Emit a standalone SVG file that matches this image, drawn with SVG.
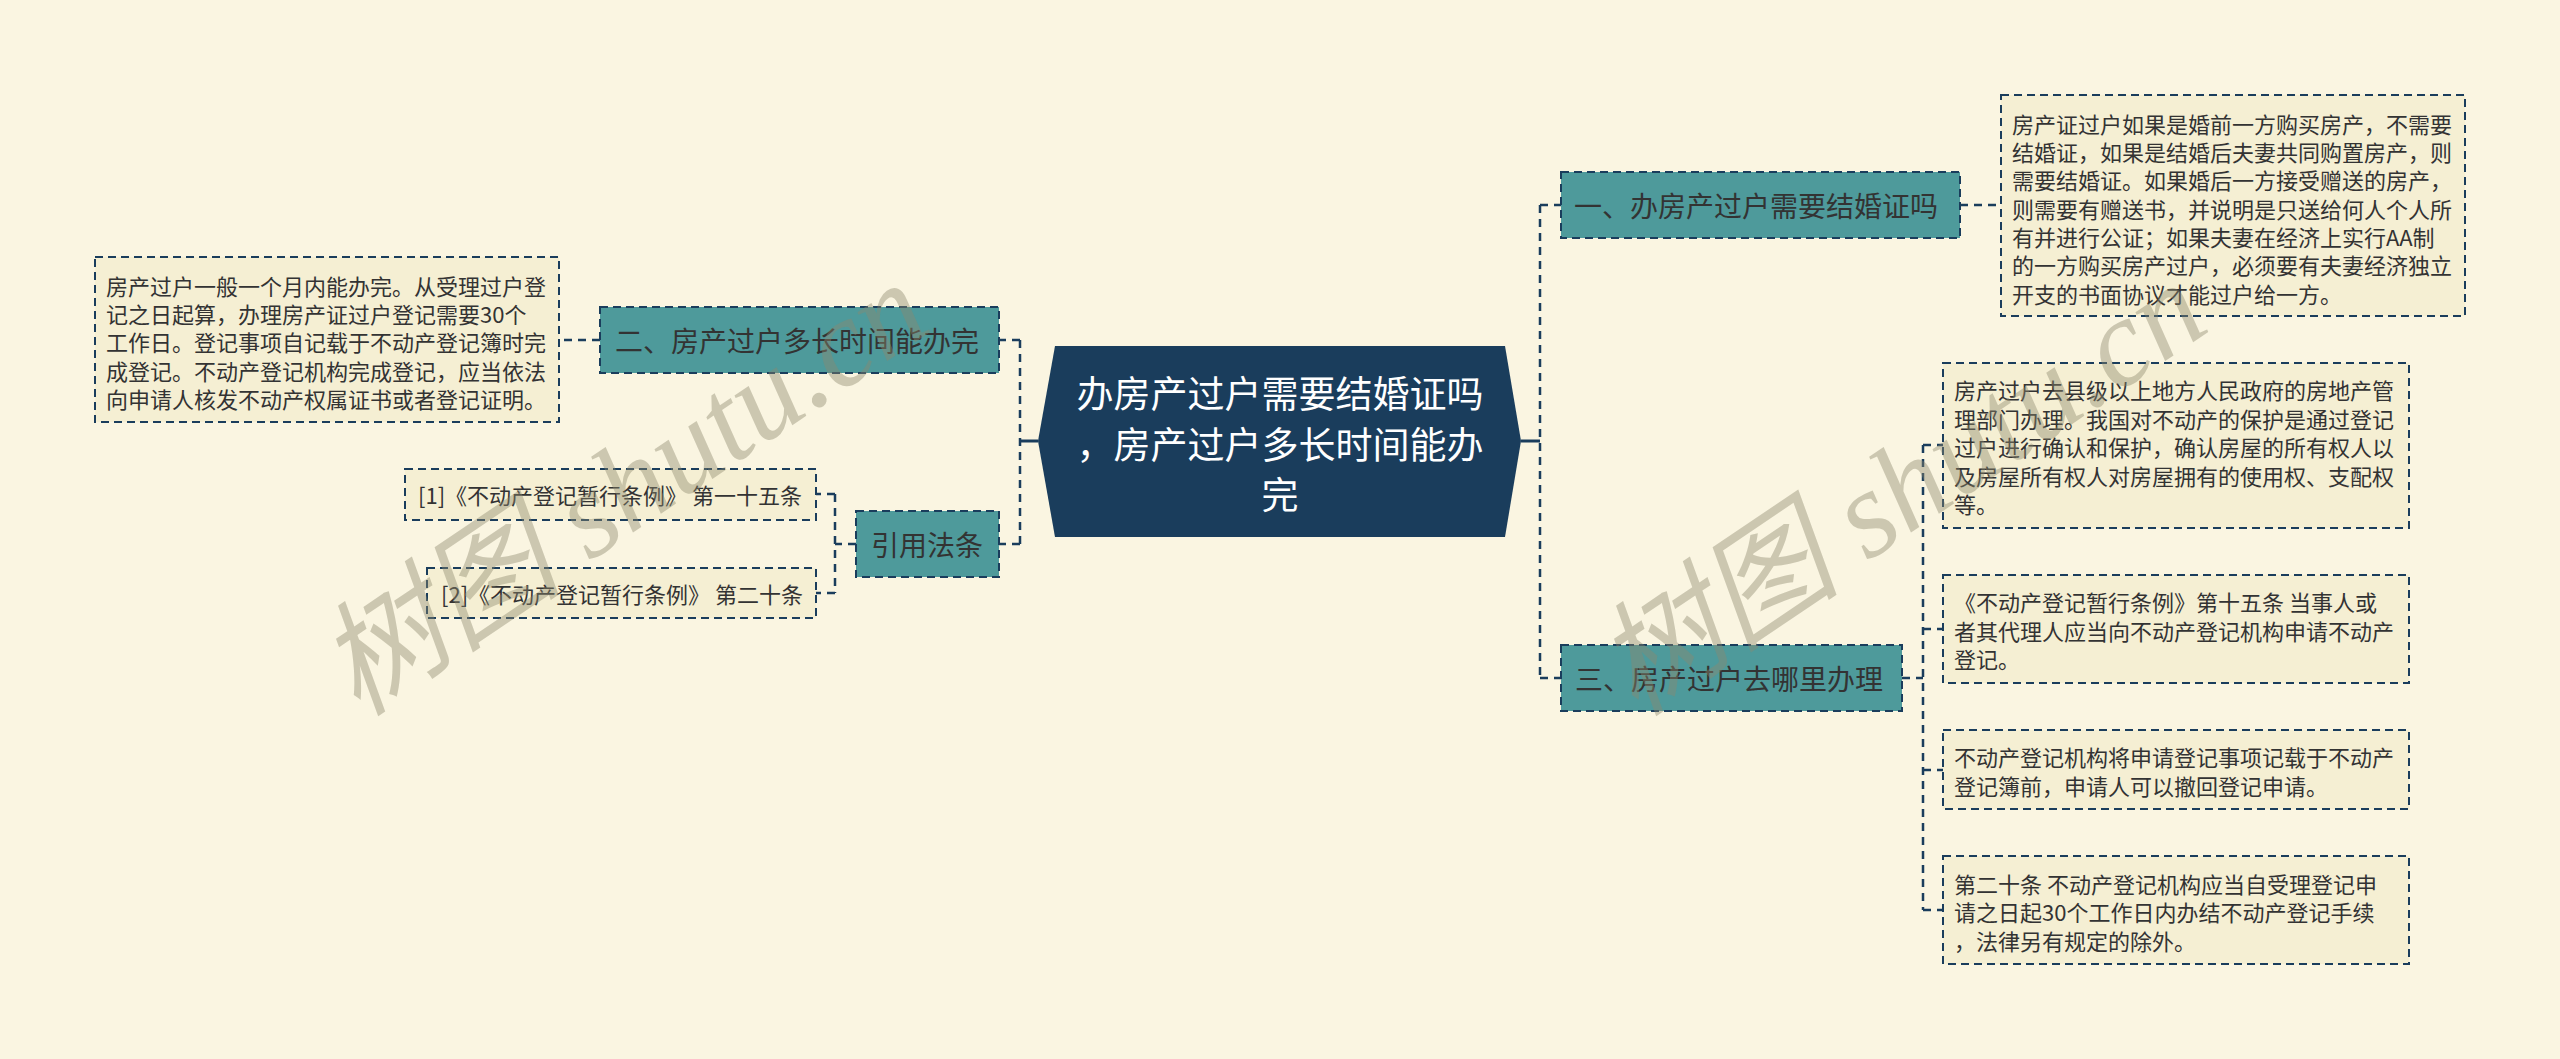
<svg xmlns="http://www.w3.org/2000/svg" width="2560" height="1059" viewBox="0 0 2560 1059">
<defs>
<style>
.bg{fill:#faf5e1}
.root{fill:#1a3d5c}
.rootTxt{fill:#ffffff;font-family:"Noto Sans CJK SC","Liberation Sans",sans-serif;font-size:37px;text-anchor:middle;dominant-baseline:central}
.br{fill:#4e9a9b;stroke:#1a3d5c;stroke-width:2;stroke-dasharray:8 5}
.brTxt{fill:#333333;font-family:"Noto Sans CJK SC","Liberation Sans",sans-serif;font-size:28px;dominant-baseline:central}
.leaf{fill:#f5efd3;stroke:#1a3d5c;stroke-width:2;stroke-dasharray:8 5}
.lfTxt{fill:#333333;font-family:"Noto Sans CJK SC","Liberation Sans",sans-serif;font-size:22px;dominant-baseline:central}
.con{fill:none;stroke:#1a3d5c;stroke-width:2.5;stroke-dasharray:8 6}
.solid{fill:none;stroke:#1a3d5c;stroke-width:3}
.wm{fill:#8c876e;fill-opacity:0.42;font-family:"Liberation Serif","Noto Sans CJK SC",serif;font-style:italic;font-size:124px}
</style>
</defs>
<rect class="bg" x="0" y="0" width="2560" height="1059"/>

<g id="connectors">
<path class="solid" d="M1038 441 H1020"/>
<path class="con" d="M1020 340 V544"/>
<path class="con" d="M1020 340 H999 M1020 544 H999"/>
<path class="solid" d="M1521 441 H1540"/>
<path class="con" d="M1540 205 V678"/>
<path class="con" d="M1540 205 H1561 M1540 678 H1561"/>
<path class="con" d="M1960 205 H2001"/>
<path class="con" d="M600 340 H559"/>
<path class="con" d="M856 544 H835 M835 494 V593 M835 494 H816 M835 593 H816"/>
<path class="con" d="M1902 678 H1923 M1923 445 V910 M1923 445 H1943 M1923 629 H1943 M1923 770 H1943 M1923 910 H1943"/>
</g>

<g id="root">
<polygon class="root" points="1055,346 1505,346 1521,441 1505,537 1055,537 1038,441"/>
<text class="rootTxt" x="1280" y="392">办房产过户需要结婚证吗</text>
<text class="rootTxt" x="1280" y="443">，房产过户多长时间能办</text>
<text class="rootTxt" x="1280" y="493">完</text>
</g>

<g id="branch1">
<rect class="br" x="1561" y="172" width="399" height="66"/>
<text class="brTxt" x="1574" y="205">一、办房产过户需要结婚证吗</text>
</g>
<g id="leaf1">
<rect class="leaf" x="2001" y="95" width="464" height="221"/>
<text class="lfTxt" x="2012" y="123">房产证过户如果是婚前一方购买房产，不需要</text>
<text class="lfTxt" x="2012" y="151">结婚证，如果是结婚后夫妻共同购置房产，则</text>
<text class="lfTxt" x="2012" y="179">需要结婚证。如果婚后一方接受赠送的房产，</text>
<text class="lfTxt" x="2012" y="208">则需要有赠送书，并说明是只送给何人个人所</text>
<text class="lfTxt" x="2012" y="236">有并进行公证；如果夫妻在经济上实行AA制</text>
<text class="lfTxt" x="2012" y="264">的一方购买房产过户，必须要有夫妻经济独立</text>
<text class="lfTxt" x="2012" y="293">开支的书面协议才能过户给一方。</text>
</g>

<g id="branch2">
<rect class="br" x="600" y="307" width="399" height="66"/>
<text class="brTxt" x="615" y="340">二、房产过户多长时间能办完</text>
</g>
<g id="leaf2">
<rect class="leaf" x="95" y="257" width="464" height="165"/>
<text class="lfTxt" x="106" y="285">房产过户一般一个月内能办完。从受理过户登</text>
<text class="lfTxt" x="106" y="313">记之日起算，办理房产证过户登记需要30个</text>
<text class="lfTxt" x="106" y="341">工作日。登记事项自记载于不动产登记簿时完</text>
<text class="lfTxt" x="106" y="370">成登记。不动产登记机构完成登记，应当依法</text>
<text class="lfTxt" x="106" y="398">向申请人核发不动产权属证书或者登记证明。</text>
</g>

<g id="branch4">
<rect class="br" x="856" y="511" width="143" height="66"/>
<text class="brTxt" x="871" y="544">引用法条</text>
</g>
<g id="cite1">
<rect class="leaf" x="405" y="469" width="411" height="51"/>
<text class="lfTxt" x="418" y="494">[1]《不动产登记暂行条例》 第一十五条</text>
</g>
<g id="cite2">
<rect class="leaf" x="427" y="568" width="389" height="50"/>
<text class="lfTxt" x="441" y="593">[2]《不动产登记暂行条例》 第二十条</text>
</g>

<g id="branch3">
<rect class="br" x="1561" y="645" width="341" height="66"/>
<text class="brTxt" x="1575" y="678">三、房产过户去哪里办理</text>
</g>
<g id="leaf3a">
<rect class="leaf" x="1943" y="363" width="466" height="165"/>
<text class="lfTxt" x="1954" y="389">房产过户去县级以上地方人民政府的房地产管</text>
<text class="lfTxt" x="1954" y="418">理部门办理。我国对不动产的保护是通过登记</text>
<text class="lfTxt" x="1954" y="446">过户进行确认和保护，确认房屋的所有权人以</text>
<text class="lfTxt" x="1954" y="475">及房屋所有权人对房屋拥有的使用权、支配权</text>
<text class="lfTxt" x="1954" y="503">等。</text>
</g>
<g id="leaf3b">
<rect class="leaf" x="1943" y="575" width="466" height="108"/>
<text class="lfTxt" x="1954" y="601">《不动产登记暂行条例》第十五条 当事人或</text>
<text class="lfTxt" x="1954" y="630">者其代理人应当向不动产登记机构申请不动产</text>
<text class="lfTxt" x="1954" y="658">登记。</text>
</g>
<g id="leaf3c">
<rect class="leaf" x="1943" y="730" width="466" height="79"/>
<text class="lfTxt" x="1954" y="756">不动产登记机构将申请登记事项记载于不动产</text>
<text class="lfTxt" x="1954" y="785">登记簿前，申请人可以撤回登记申请。</text>
</g>
<g id="leaf3d">
<rect class="leaf" x="1943" y="856" width="466" height="108"/>
<text class="lfTxt" x="1954" y="883">第二十条 不动产登记机构应当自受理登记申</text>
<text class="lfTxt" x="1954" y="911">请之日起30个工作日内办结不动产登记手续</text>
<text class="lfTxt" x="1954" y="940">，法律另有规定的除外。</text>
</g>

<g id="watermarks">
<text class="wm" transform="translate(358,718) rotate(-34)">树图 shutu.cn</text>
<text class="wm" transform="translate(1636,718) rotate(-34)">树图 shutu.cn</text>
</g>
</svg>
